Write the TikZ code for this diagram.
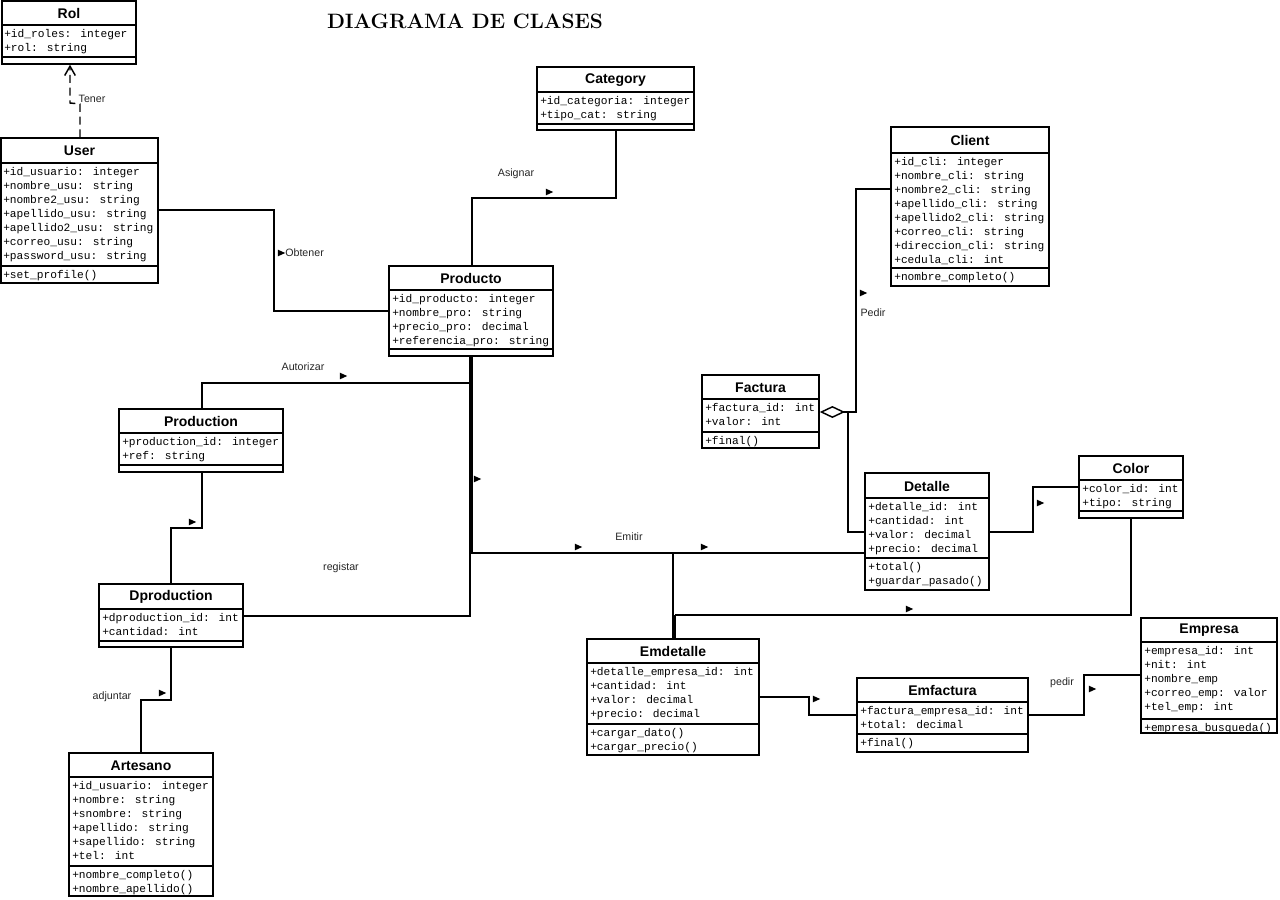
\documentclass[tikz,border=0pt]{standalone}
\usepackage{fontspec}
\newfontfamily\sansf{Liberation Sans}
\newfontfamily\monof{Liberation Mono}
\usetikzlibrary{fit,arrows.meta,shapes.geometric}
\tikzset{
  umlframe/.style={draw, line width=1.1pt, inner sep=0pt},
  umlsep/.style={line width=1.1pt},
  umltitle/.style={font=\sansf\bfseries\fontsize{10.5}{12}\selectfont, inner sep=0pt},
  umlrow/.style={font=\monof\fontsize{8.4}{10}\selectfont, anchor=base west, inner sep=0pt},
  assoc/.style={line width=1.1pt},
  thickassoc/.style={line width=2.8pt},
  depline/.style={line width=1.1pt, dash pattern=on 6pt off 3.5pt, -{Straight Barb[length=7pt,width=8pt,line width=1.1pt]}},
  aggline/.style={line width=1.1pt, -{Diamond[open,length=19pt,width=9pt,line width=1.1pt]}},
  dirmark/.style={isosceles triangle, isosceles triangle stretches, fill=black, draw=none, inner sep=0pt, minimum width=5pt, minimum height=5.5pt},
  lbl/.style={font=\sansf\fontsize{8}{9}\selectfont, inner sep=0pt, text=black!85},
  titlefont/.style={font=\fontsize{15.6}{18}\selectfont\bfseries, inner sep=0pt}
}
% #1 name, #2 x1, #3 y1, #4 x2, #5 y2, #6 title separator, #7 attribute end, #8 title
\newcommand\umlframebox[8]{%
  \node[umlframe, fit={(#2,#3)(#4,#5)}] (#1) {};
  \draw[umlsep] (#2,#6) -- (#4,#6);
  \draw[umlsep] (#2,#7) -- (#4,#7);
  \node[umltitle] (#1-title) at ({(#2+#4)/2},{(#3+#6)/2+0.5}) {#8};
}
% #1 prefix, #2 x, #3 top y, #4 list
\newcommand\umlrows[4]{%
  \foreach \t [count=\i] in {#4} {\node[umlrow] (#1-\i) at (#2,{#3+14*\i-1.5}) {\t};}%
}
\begin{document}
\begin{tikzpicture}[x=0.75pt,y=-0.75pt]
\useasboundingbox (0,0) rectangle (1280,899);

\node[titlefont] (title) at (465,21) {DIAGRAMA DE CLASES};

% Rol
\umlframebox{rol}{2}{1}{136}{64}{25}{57}{Rol}
\umlrows{rola}{4}{25}{+id\_roles: integer, +rol: string}

% User
\umlframebox{user}{1}{138}{158}{283}{163}{266}{User}
\umlrows{usera}{3}{163}{+id\_usuario: integer, +nombre\_usu: string, +nombre2\_usu: string, +apellido\_usu: string, +apellido2\_usu: string, +correo\_usu: string, +password\_usu: string}
\umlrows{userm}{3}{266}{+set\_profile()}

% Category
\umlframebox{category}{537}{67}{694}{130}{92}{124}{Category}
\umlrows{cata}{540}{92}{+id\_categoria: integer, +tipo\_cat: string}

% Producto
\umlframebox{producto}{389}{266}{553}{356}{290}{349}{Producto}
\umlrows{proa}{392}{290}{+id\_producto: integer, +nombre\_pro: string, +precio\_pro: decimal, +referencia\_pro: string}

% Client
\umlframebox{client}{891}{127}{1049}{286}{153}{268}{Client}
\umlrows{clia}{894}{153}{+id\_cli: integer, +nombre\_cli: string, +nombre2\_cli: string, +apellido\_cli: string, +apellido2\_cli: string, +correo\_cli: string, +direccion\_cli: string, +cedula\_cli: int}
\umlrows{clim}{894}{268}{+nombre\_completo()}

% Factura
\umlframebox{factura}{702}{375}{819}{448}{399}{432}{Factura}
\umlrows{faca}{705}{399}{+factura\_id: int, +valor: int}
\umlrows{facm}{705}{432}{+final()}

% Detalle
\umlframebox{detalle}{865}{473}{989}{590}{498}{558}{Detalle}
\umlrows{deta}{868}{498}{+detalle\_id: int, +cantidad: int, +valor: decimal, +precio: decimal}
\umlrows{detm}{868}{558}{+total(), +guardar\_pasado()}

% Color
\umlframebox{color}{1079}{456}{1183}{518}{480}{511}{Color}
\umlrows{cola}{1082}{480}{+color\_id: int, +tipo: string}

% Production
\umlframebox{production}{119}{409}{283}{472}{433}{465}{Production}
\umlrows{proda}{122}{433}{+production\_id: integer, +ref: string}

% Dproduction
\umlframebox{dproduction}{99}{584}{243}{647}{609}{641}{Dproduction}
\umlrows{dproda}{102}{609}{+dproduction\_id: int, +cantidad: int}

% Artesano
\umlframebox{artesano}{69}{753}{213}{896}{777}{866}{Artesano}
\umlrows{arta}{72}{777}{+id\_usuario: integer, +nombre: string, +snombre: string, +apellido: string, +sapellido: string, +tel: int}
\umlrows{artm}{72}{866}{+nombre\_completo(), +nombre\_apellido()}

% Emdetalle
\umlframebox{emdetalle}{587}{639}{759}{755}{663}{724}{Emdetalle}
\umlrows{emda}{590}{663}{+detalle\_empresa\_id: int, +cantidad: int, +valor: decimal, +precio: decimal}
\umlrows{emdm}{590}{724}{+cargar\_dato(), +cargar\_precio()}

% Emfactura
\umlframebox{emfactura}{857}{678}{1028}{752}{702}{734}{Emfactura}
\umlrows{emfa}{860}{702}{+factura\_empresa\_id: int, +total: decimal}
\umlrows{emfm}{860}{734}{+final()}

% Empresa
\umlframebox{empresa}{1141}{618}{1277}{733}{642}{719}{Empresa}
\umlrows{empa}{1144}{642}{+empresa\_id: int, +nit: int, +nombre\_emp, +correo\_emp: valor, +tel\_emp: int}
\umlrows{empm}{1144}{719}{+empresa\_busqueda()}

% ---- connectors ----
% Tener
\draw[depline] (user.north -| 80,0) -- (80,104) -- (70,103) -- (rol.south -| 70,0);
\node[lbl] (ltener) at (92,99) {Tener};

% Obtener
\draw[assoc] (user.east |- 0,210) -| (274,311) -- (producto.west |- 0,311);
\node[dirmark] (mobt) at (280,253) {};
\node[lbl, anchor=west] (lobt) at (285,253) {Obtener};

% Asignar
\draw[assoc] (category.south -| 616,0) |- (472,198) -- (producto.north -| 472,0);
\node[dirmark] (masig) at (548,192) {};
\node[lbl] (lasig) at (516,174) {Asignar};

% Pedir (aggregation to Factura)
\draw[aggline] (client.west |- 0,189) -| (856,412) -- (factura.east |- 0,412);
\coordinate (aggj) at (848,412);
\node[dirmark] (mped) at (862,293) {};
\node[lbl] (lped) at (873,313) {Pedir};

% Factura - Detalle
\draw[assoc] (aggj) |- (detalle.west |- 0,532);

% Detalle - Color
\draw[assoc] (detalle.east |- 0,532) -| (1033,487) -- (color.west |- 0,487);
\node[dirmark] (mdc) at (1039,503) {};

% Color - Emdetalle
\coordinate (cej) at (675,615);
\draw[assoc] (color.south -| 1131,0) |- (cej);
\node[dirmark] (mce) at (908,609) {};

% Emitir
\coordinate (ej) at (471,553);
\draw[thickassoc] (producto.south -| 471,0) -- (ej);
\draw[assoc] (ej) -- (detalle.west |- 0,553);
\draw[assoc] (673,553) -- (cej -| 673,0);
\draw[line width=2.4pt] (cej -| 674,0) -- (emdetalle.north -| 674,0);
\node[dirmark] (mem1) at (577,547) {};
\node[dirmark] (mem2) at (703,547) {};
\node[dirmark] (mem3) at (476,479) {};
\node[lbl] (lemi) at (629,537) {Emitir};

% Autorizar
\draw[assoc] (production.north -| 202,0) |- (ej |- 0,383);
\node[dirmark] (maut) at (342,376) {};
\node[lbl] (laut) at (303,367) {Autorizar};

% registar
\draw[assoc] (dproduction.east |- 0,616) -| (470,553);
\node[lbl] (lreg) at (341,568) {registar};

% Production - Dproduction
\draw[assoc] (production.south -| 202,0) |- (171,528) -- (dproduction.north -| 171,0);
\node[dirmark] (mpd) at (191,522) {};

% adjuntar
\draw[assoc] (dproduction.south -| 171,0) |- (141,700) -- (artesano.north -| 141,0);
\node[dirmark] (madj) at (161,693) {};
\node[lbl] (ladj) at (112,697) {adjuntar};

% Emdetalle - Emfactura
\draw[assoc] (emdetalle.east |- 0,697) -| (809,715) -- (emfactura.west |- 0,715);
\node[dirmark] (mef) at (815,699) {};

% Emfactura - Empresa
\draw[assoc] (emfactura.east |- 0,715) -| (1084,675) -- (empresa.west |- 0,675);
\node[dirmark] (mfe) at (1091,689) {};
\node[lbl] (lpedir) at (1062,683) {pedir};
\end{tikzpicture}
\end{document}
